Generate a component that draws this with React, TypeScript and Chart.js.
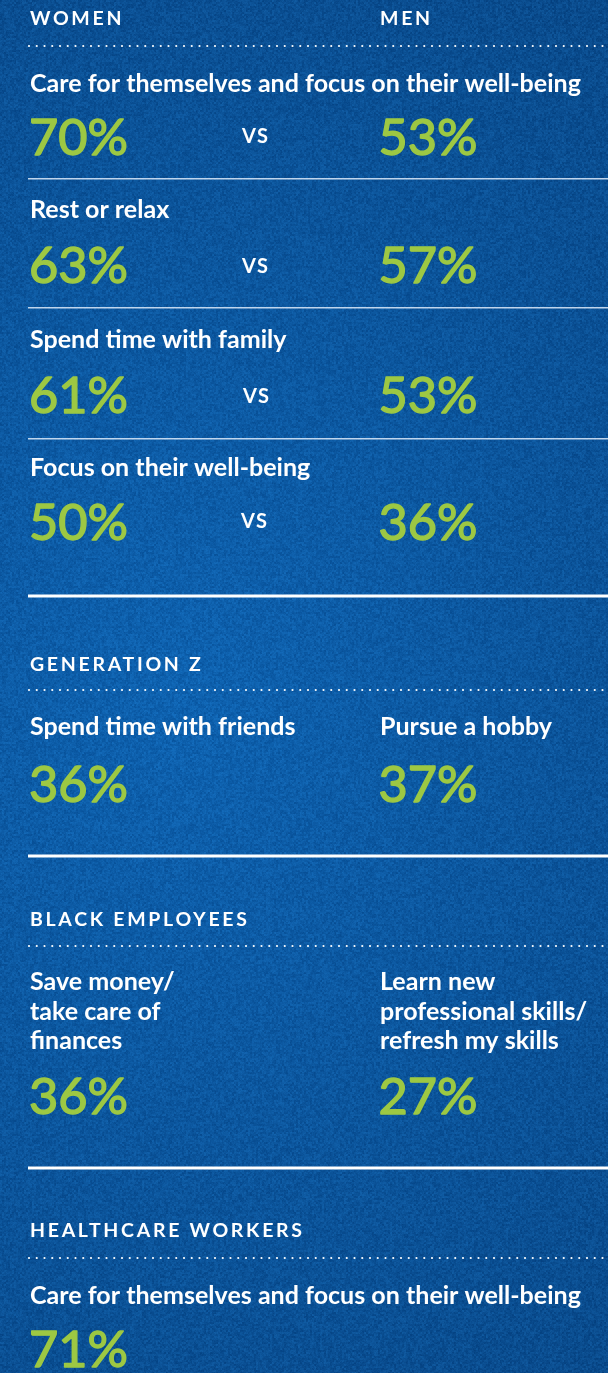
import React, { useEffect, useRef } from "react";
import { Chart, registerables } from "chart.js";

Chart.register(...registerables);

// ---------- data ----------
const genderColumns = ["WOMEN", "MEN"];
const genderQuestions = [
  "Care for themselves and focus on their well-being",
  "Rest or relax",
  "Spend time with family",
  "Focus on their well-being",
];
const womenValues = [70, 63, 61, 50];
const menValues = [53, 57, 53, 36];

const genZTitle = "GENERATION Z";
const genZLabels = [["Spend time with friends"], ["Pursue a hobby"]];
const genZValues = [36, 37];

const blackTitle = "BLACK EMPLOYEES";
const blackLabels = [
  ["Save money/", "take care of", "finances"],
  ["Learn new", "professional skills/", "refresh my skills"],
];
const blackValues = [36, 27];

const healthTitle = "HEALTHCARE WORKERS";
const healthLabels = [["Care for themselves and focus on their well-being"]];
const healthValues = [71];

const vsText = "VS";

// ---------- style / layout ----------
const W = 608;
const H = 1373;
const GREEN = "#9dc843";
const WHITE = "#ffffff";
const FONT = "Lato, 'Noto Sans', sans-serif";

function hash(x: number, y: number) {
  let h = (x * 374761393 + y * 668265263) | 0;
  h = (h ^ (h >>> 13)) * 1274126177;
  h = h ^ (h >>> 16);
  return ((h >>> 0) % 10000) / 10000;
}

const bgPlugin = {
  id: "bgTexture",
  beforeDraw(chart: any) {
    const ctx = chart.ctx as CanvasRenderingContext2D;
    const w = chart.width, h = chart.height;
    const img = ctx.createImageData(w, h);
    const d = img.data;
    const c1 = [14, 98, 176];
    const c2 = [9, 72, 136];
    for (let y = 0; y < h; y++) {
      for (let x = 0; x < w; x++) {
        const dx = (x - 180) / 750, dy = (y - 700) / 950;
        let t = Math.sqrt(dx * dx + dy * dy);
        if (t > 1) t = 1;
        const n1 = hash(x >> 1, y >> 1) - 0.5;
        const n2 = hash(x + 9000, y + 3000) - 0.5;
        const n = n1 * 22 + n2 * 12;
        const i = (y * w + x) * 4;
        d[i] = c1[0] + (c2[0] - c1[0]) * t + n * 0.4;
        d[i + 1] = c1[1] + (c2[1] - c1[1]) * t + n * 0.8;
        d[i + 2] = c1[2] + (c2[2] - c1[2]) * t + n;
        d[i + 3] = 255;
      }
    }
    ctx.putImageData(img, 0, 0);
  },
};

const infoPlugin = {
  id: "infographic",
  afterDraw(chart: any) {
    const ctx = chart.ctx as CanvasRenderingContext2D;
    const sx = chart.scales.x, sy = chart.scales.y;
    const px = (v: number) => sx.getPixelForValue(v);
    const py = (v: number) => sy.getPixelForValue(v);
    ctx.save();
    ctx.textBaseline = "alphabetic";
    ctx.textAlign = "left";

    // fit sizes
    ctx.font = `700 20px ${FONT}`;
    (ctx as any).letterSpacing = "0px";
    const headSize = (20 * 551) / ctx.measureText(genderQuestions[0]).width;
    const LABEL_SIZE = 19.5;
    ctx.font = `700 ${LABEL_SIZE}px ${FONT}`;
    const baseHW = ctx.measureText(healthTitle).width;
    const labelSpacing = (272 - baseHW) / (healthTitle.length - 1);
    ctx.font = `400 48px ${FONT}`;
    const pctSize = (48 * 99) / ctx.measureText("70%").width;

    const label = (t: string, x: number, y: number) => {
      ctx.font = `700 ${LABEL_SIZE}px ${FONT}`;
      (ctx as any).letterSpacing = `${labelSpacing}px`;
      ctx.fillStyle = WHITE;
      ctx.fillText(t, px(x), py(y));
      (ctx as any).letterSpacing = "0px";
    };
    const heading = (lines: string[], x: number, y: number) => {
      ctx.font = `700 ${headSize}px ${FONT}`;
      ctx.fillStyle = WHITE;
      lines.forEach((l, i) => ctx.fillText(l, px(x), py(y + i * 29.5)));
    };
    const pct = (v: number, x: number, y: number) => {
      ctx.font = `400 ${pctSize}px ${FONT}`;
      ctx.fillStyle = GREEN;
      ctx.strokeStyle = GREEN;
      ctx.lineWidth = 1.4;
      ctx.lineJoin = "round";
      ctx.fillText(`${v}%`, px(x), py(y));
      ctx.strokeText(`${v}%`, px(x), py(y));
    };
    const vs = (x: number, y: number) => {
      ctx.font = `700 20px ${FONT}`;
      (ctx as any).letterSpacing = "1.5px";
      ctx.fillStyle = WHITE;
      ctx.fillText(vsText, px(x), py(y));
      (ctx as any).letterSpacing = "0px";
    };
    const dotted = (y: number) => {
      ctx.fillStyle = WHITE;
      for (let x = 29; x < W; x += 7.75) {
        ctx.beginPath();
        ctx.arc(px(x), py(y), 1.1, 0, Math.PI * 2);
        ctx.fill();
      }
    };
    const thin = (y: number) => {
      ctx.fillStyle = "rgba(225,236,250,0.85)";
      ctx.fillRect(px(28), py(y), px(W) - px(28), 1.5);
    };
    const thick = (y: number) => {
      ctx.fillStyle = WHITE;
      ctx.fillRect(px(28), py(y) - 1.5, px(W) - px(28), 3);
    };

    const L = 30, C2 = 380;

    // gender section
    label(genderColumns[0], L, 25);
    label(genderColumns[1], C2, 25);
    dotted(46);
    const headY = [92, 218, 348, 476];
    const pctY = [155, 283, 413, 540];
    const vsY = [143, 273, 403, 528];
    const vsX = [242, 242, 243, 241];
    const ruleY = [178, 307, 438];
    genderQuestions.forEach((q, i) => {
      heading([q], L, headY[i]);
      pct(womenValues[i], 29, pctY[i]);
      vs(vsX[i], vsY[i]);
      pct(menValues[i], 378.5, pctY[i]);
      if (i < ruleY.length) thin(ruleY[i]);
    });
    thick(596);

    // Gen Z
    label(genZTitle, L, 670.5);
    dotted(690);
    genZLabels.forEach((ls, i) => heading(ls, i === 0 ? L : C2, 735));
    genZValues.forEach((v, i) => pct(v, i === 0 ? 29 : 378.5, 802));
    thick(856);

    // Black employees
    label(blackTitle, L, 926);
    dotted(946);
    blackLabels.forEach((ls, i) => heading(ls, i === 0 ? L : C2, 990));
    blackValues.forEach((v, i) => pct(v, i === 0 ? 29 : 378.5, 1114));
    thick(1168);

    // Healthcare
    label(healthTitle, L, 1237);
    dotted(1258);
    healthLabels.forEach((ls) => heading(ls, L, 1304));
    healthValues.forEach((v) => pct(v, 29, 1367));

    ctx.restore();
  },
};

export default function App() {
  const ref = useRef<HTMLCanvasElement | null>(null);
  useEffect(() => {
    document.body.style.margin = "0";
    document.body.style.background = "#0a4f95";
    const canvas = ref.current!;
    const chart = new Chart(canvas, {
      type: "scatter",
      data: { datasets: [{ data: [], pointRadius: 0 }] },
      options: {
        responsive: false,
        animation: false,
        devicePixelRatio: 1,
        events: [],
        layout: { padding: 0 },
        plugins: { legend: { display: false }, tooltip: { enabled: false } },
        scales: {
          x: { type: "linear", min: 0, max: W, display: false },
          y: { type: "linear", min: 0, max: H, reverse: true, display: false },
        },
      },
      plugins: [bgPlugin, infoPlugin],
    });
    return () => chart.destroy();
  }, []);
  return (
    <canvas
      ref={ref}
      width={W}
      height={H}
      style={{ display: "block", width: W, height: H }}
    />
  );
}
